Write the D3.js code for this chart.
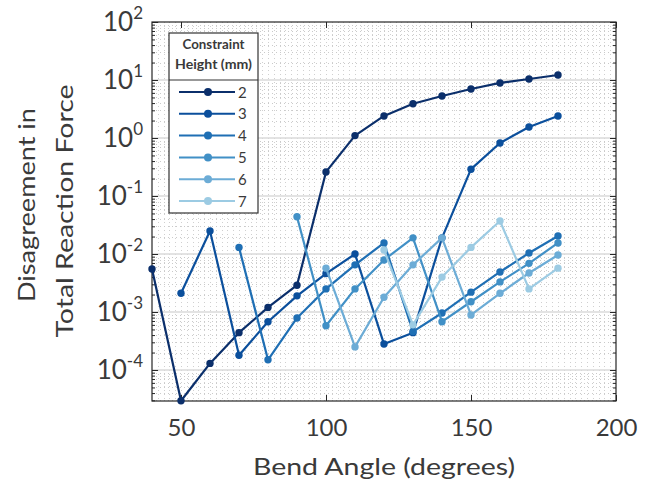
<!DOCTYPE html>
<html>
<head>
<meta charset="utf-8">
<script src="https://cdn.jsdelivr.net/npm/d3@7"></script>
<style>
  html, body { margin: 0; padding: 0; background: #ffffff; }
  svg { display: block; }
  text { font-family: Lato, "Open Sans", sans-serif; fill: #3a3a3a; }
</style>
</head>
<body>
<svg id="chart" width="660" height="483"></svg>
<script>
// ---------------- data ----------------
const heights = ["2", "3", "4", "5", "6", "7"];
const angles2 = [40, 50, 60, 70, 80, 90, 100, 110, 120, 130, 140, 150, 160, 170, 180];
const values2 = [5.5e-3, 2.95e-5, 1.3e-4, 4.4e-4, 1.2e-3, 2.9e-3, 0.26, 1.1, 2.4, 3.9, 5.3, 7.0, 8.9, 10.4, 12.2];
const angles3 = [50, 60, 70, 80, 90, 100, 110, 120, 130, 140, 150, 160, 170, 180];
const values3 = [2.1e-3, 0.025, 1.8e-4, 6.8e-4, 1.9e-3, 4.6e-3, 0.010, 2.8e-4, 4.4e-4, 0.019, 0.29, 0.82, 1.55, 2.4];
const angles4 = [70, 80, 90, 100, 110, 120, 130, 140, 150, 160, 170, 180];
const values4 = [0.013, 1.5e-4, 7.9e-4, 2.5e-3, 6.5e-3, 0.0155, 4.6e-4, 9.6e-4, 2.2e-3, 4.9e-3, 0.0104, 0.0204];
const angles5 = [90, 100, 110, 120, 130, 140, 150, 160, 170, 180];
const values5 = [0.044, 5.8e-4, 2.5e-3, 7.9e-3, 0.019, 6.8e-4, 1.5e-3, 3.3e-3, 6.9e-3, 0.0155];
const angles6 = [100, 110, 120, 130, 140, 150, 160, 170, 180];
const values6 = [5.7e-3, 2.5e-4, 1.8e-3, 6.5e-3, 0.019, 8.9e-4, 2.1e-3, 4.7e-3, 9.6e-3];
const angles7 = [120, 130, 140, 150, 160, 170, 180];
const values7 = [0.0117, 6.0e-4, 4.0e-3, 0.013, 0.037, 2.5e-3, 5.7e-3];
const colors = ["#0b2f6b", "#0b4f9c", "#1f6fb4", "#4190c6", "#6cacd6", "#9ccbe3"];
const xTicks = [50, 100, 150, 200];
const yTickExps = [-4, -3, -2, -1, 0, 1, 2];
const xDomain = [40, 200];
const yDomain = [2.92e-5, 100];
const xLabel = "Bend Angle (degrees)";
const yLabel = ["Disagreement in", "Total Reaction Force"];
const legendTitle = ["Constraint", "Height (mm)"];

const seriesX = [angles2, angles3, angles4, angles5, angles6, angles7];
const seriesY = [values2, values3, values4, values5, values6, values7];
const series = heights.map((h, i) => ({
  name: h, color: colors[i],
  points: seriesX[i].map((a, j) => ({ x: a, y: seriesY[i][j] }))
}));

// ---------------- layout ----------------
const L = 152, R = 616, T = 22, B = 401;
const svg = d3.select("#chart");
const x = d3.scaleLinear().domain(xDomain).range([L, R]);
const y = d3.scaleLog().domain(yDomain).range([B, T]);

// minor grid (dotted)
const grid = svg.append("g");
const xMinor = d3.range(xDomain[0] + 2, xDomain[1], 2);
grid.selectAll("line.xm").data(xMinor).join("line")
  .attr("x1", d => Math.round(x(d)) + 0.5).attr("x2", d => Math.round(x(d)) + 0.5).attr("y1", T).attr("y2", B)
  .attr("stroke", "#d0d0d0").attr("stroke-width", 1).attr("stroke-dasharray", "1,3");
const yMinor = [];
for (let e = -5; e <= 1; e++) for (let m = 2; m <= 9; m++) {
  const v = m * Math.pow(10, e);
  if (v > yDomain[0] && v < yDomain[1]) yMinor.push(v);
}
grid.selectAll("line.ym").data(yMinor).join("line")
  .attr("x1", L).attr("x2", R).attr("y1", d => Math.round(y(d)) + 0.5).attr("y2", d => Math.round(y(d)) + 0.5)
  .attr("stroke", "#cacaca").attr("stroke-width", 1).attr("stroke-dasharray", "1,3");
grid.selectAll("line.yM").data(yTickExps.map(e => Math.pow(10, e)).filter(v => v < yDomain[1])).join("line")
  .attr("x1", L).attr("x2", R).attr("y1", d => y(d)).attr("y2", d => y(d))
  .attr("stroke", "#dadada").attr("stroke-width", 1.3);

// axes (ticks inward on all four sides)
const axisColor = "#262626";
const xAxisB = d3.axisBottom(x).tickValues(xTicks).tickSize(-6).tickPadding(18).tickFormat(d3.format("d"));
const gxb = svg.append("g").attr("transform", `translate(0,${B})`).call(xAxisB);
const xAxisT = d3.axisTop(x).tickValues(xTicks).tickSize(-6).tickFormat("");
const gxt = svg.append("g").attr("transform", `translate(0,${T})`).call(xAxisT);
const yAxisL = d3.axisLeft(y).tickValues(yTickExps.map(e => Math.pow(10, e))).tickSize(-6).tickFormat("");
const gyl = svg.append("g").attr("transform", `translate(${L},0)`).call(yAxisL);
const yAxisR = d3.axisRight(y).tickValues(yTickExps.map(e => Math.pow(10, e))).tickSize(-6).tickFormat("");
const gyr = svg.append("g").attr("transform", `translate(${R},0)`).call(yAxisR);
const yMinorAxisL = d3.axisLeft(y).tickValues(yMinor).tickSize(-3).tickFormat("");
const gyml = svg.append("g").attr("transform", `translate(${L},0)`).call(yMinorAxisL);
const yMinorAxisR = d3.axisRight(y).tickValues(yMinor).tickSize(-3).tickFormat("");
const gymr = svg.append("g").attr("transform", `translate(${R},0)`).call(yMinorAxisR);
[gxb, gxt, gyl, gyr, gyml, gymr].forEach(g => {
  g.select(".domain").remove();
  g.selectAll(".tick line").attr("stroke", axisColor);
});
gxb.selectAll(".tick text").attr("font-size", 24).attr("fill", "#3a3a3a").attr("font-family", "Lato");
svg.append("rect").attr("x", L).attr("y", T).attr("width", R - L).attr("height", B - T)
  .attr("fill", "none").attr("stroke", axisColor).attr("stroke-width", 1.2);

// y tick labels 10^n
const yl = svg.append("g");
yTickExps.forEach(e => {
  const t = yl.append("text").attr("x", 143).attr("y", y(Math.pow(10, e)) + 9)
    .attr("text-anchor", "end").attr("font-size", 26);
  t.append("tspan").text("10");
  t.append("tspan").attr("dy", -12).attr("font-size", 17).text(String(e));
});

// axis labels
svg.append("text").attr("x", (L + R) / 2).attr("y", 475).attr("text-anchor", "middle")
  .attr("font-size", 24).attr("textLength", 262).attr("lengthAdjust", "spacingAndGlyphs").text(xLabel);
const yLabelLen = [194, 253];
const yLabelCenter = [205, 211];
yLabel.forEach((s, i) => {
  svg.append("text").attr("transform", `translate(${35 + i * 38},${yLabelCenter[i]}) rotate(-90)`)
    .attr("text-anchor", "middle").attr("font-size", 24)
    .attr("textLength", yLabelLen[i]).attr("lengthAdjust", "spacingAndGlyphs").text(s);
});

// series
const line = d3.line().x(d => x(d.x)).y(d => y(d.y));
const gs = svg.append("g");
series.forEach(s => {
  gs.append("path").datum(s.points).attr("d", line)
    .attr("fill", "none").attr("stroke", s.color).attr("stroke-width", 2.2).attr("stroke-linejoin", "round");
  gs.selectAll(null).data(s.points).join("circle")
    .attr("cx", d => x(d.x)).attr("cy", d => y(d.y)).attr("r", 3.7).attr("fill", s.color);
});

// legend
const lg = svg.append("g");
const lx = 169, ly = 33, lw = 89, lh = 180;
lg.append("rect").attr("x", lx).attr("y", ly).attr("width", lw).attr("height", lh)
  .attr("fill", "#ffffff").attr("stroke", "#333").attr("stroke-width", 1.2);
lg.append("line").attr("x1", lx).attr("x2", lx + lw).attr("y1", 80).attr("y2", 80)
  .attr("stroke", "#333").attr("stroke-width", 1.2);
const titleLen = [62, 77];
legendTitle.forEach((s, i) => {
  lg.append("text").attr("x", lx + lw / 2).attr("y", 49 + i * 20).attr("text-anchor", "middle")
    .attr("font-size", 13).attr("font-weight", "bold").attr("fill", "#222")
    .attr("textLength", titleLen[i]).attr("lengthAdjust", "spacingAndGlyphs").text(s);
});
series.forEach((s, i) => {
  const yy = 92 + i * 21.8;
  lg.append("line").attr("x1", 179).attr("x2", 235).attr("y1", yy).attr("y2", yy)
    .attr("stroke", s.color).attr("stroke-width", 2);
  lg.append("circle").attr("cx", 208).attr("cy", yy).attr("r", 4).attr("fill", s.color);
  lg.append("text").attr("x", 238).attr("y", yy + 5.5).attr("font-size", 15).text(s.name);
});
</script>
</body>
</html>
